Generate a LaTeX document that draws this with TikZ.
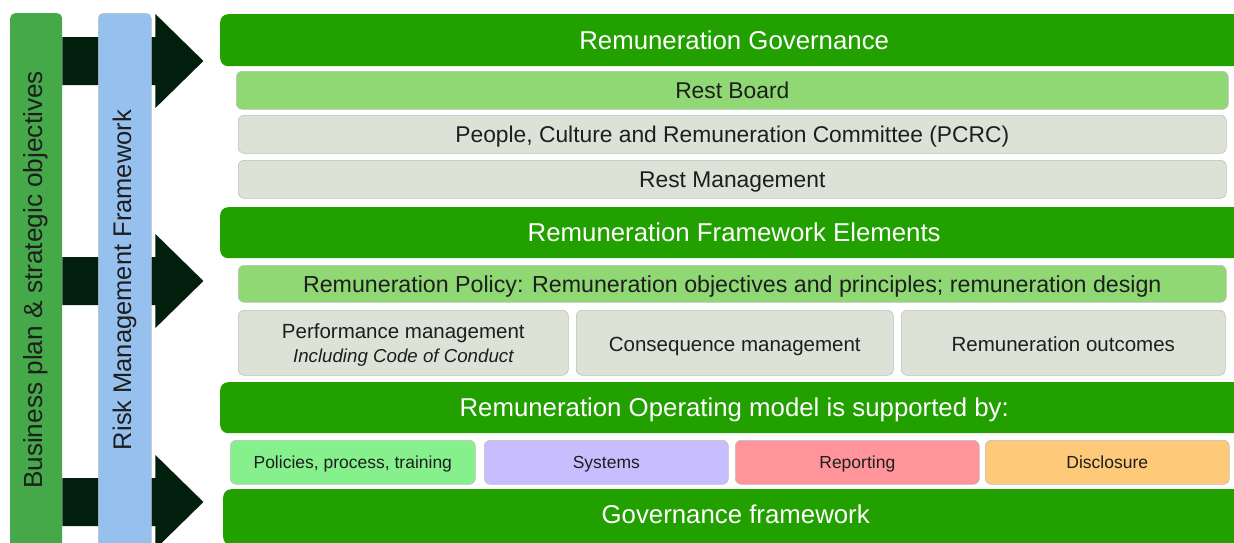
\documentclass[tikz,border=0pt]{standalone}
\usepackage{fontspec}
\setmainfont{Liberation Sans}
\usetikzlibrary{calc}
\definecolor{hdrgreen}{RGB}{33,160,0}
\definecolor{litegreen}{RGB}{143,216,116}
\definecolor{panelgray}{RGB}{220,227,214}
\definecolor{colgreen}{RGB}{69,168,73}
\definecolor{colblue}{RGB}{150,193,239}
\definecolor{arrowdark}{RGB}{2,30,12}
\definecolor{mintgreen}{RGB}{134,240,140}
\definecolor{lavender}{RGB}{200,190,255}
\definecolor{pink}{RGB}{255,149,154}
\definecolor{apricot}{RGB}{255,201,122}
\definecolor{ink}{RGB}{30,30,30}
\definecolor{edgegray}{RGB}{190,190,190}
\begin{document}
\begin{tikzpicture}[x=1pt,y=-1pt,
  box/.style={anchor=north west,inner sep=0pt,rounded corners=6pt,align=center},
  header/.style={box,fill=hdrgreen,text=white,rounded corners=8pt,
    font=\fontsize{25.8}{30}\selectfont,text height=18.4pt,text depth=0pt},
  tier/.style={box,draw=edgegray,line width=0.6pt,text=ink,
    font=\fontsize{22.8}{27}\selectfont,text height=16.6pt,text depth=0pt},
  cell/.style={box,draw=edgegray,line width=0.6pt,fill=panelgray,text=ink,
    font=\fontsize{20.5}{24}\selectfont,text height=16.4pt,text depth=0pt},
  chip/.style={box,draw=edgegray,line width=0.6pt,text=ink,
    font=\fontsize{17.5}{21}\selectfont,text height=11.6pt,text depth=0pt,
    minimum width=244pt,minimum height=44pt},
  column/.style={anchor=north west,inner sep=0pt,rounded corners=5pt,
    minimum width=52pt,minimum height=537pt},
  sidelabel/.style={rotate=90,text=ink},
  blockarrow/.style={fill=arrowdark}
]
\clip (0,0) rectangle (1234,542);
\useasboundingbox (0,0) rectangle (1234,542);

% left-hand column: business plan
\node[column,fill=colgreen] (bp) at (10,13) {};

% block arrows feeding the three tiers
\foreach \cy in {61,281,502}{
  \fill[blockarrow] ($(bp.east |- 0,\cy)+(0,-24)$) -- ++(93,0) -- ++(0,-23)
     -- ++(48,47) -- ++(-48,47) -- ++(0,-23) -- ++(-93,0) -- cycle;
}

% second column: risk management framework
\node[column,fill=colblue,draw=edgegray,line width=0.5pt,minimum width=53pt] (rmf) at (98,13) {};

\node[sidelabel,font=\fontsize{26.2}{30}\selectfont] (bpt) at (36,280)
  {Business plan \& strategic objectives};
\node[sidelabel,font=\fontsize{25.5}{30}\selectfont] (rmft) at (124.5,280)
  {Risk Management Framework};

% governance tier
\node[header,minimum width=1028pt,minimum height=52pt] (gov) at (220,14) {Remuneration Governance};
\node[tier,fill=litegreen,minimum width=992pt,minimum height=38pt] (rb) at (236,71) {Rest Board};
\node[tier,fill=panelgray,minimum width=988pt,minimum height=38pt] (pcrc) at (238,115)
  {People, Culture and Remuneration Committee (PCRC)};
\node[tier,fill=panelgray,minimum width=988pt,minimum height=38pt] (rm) at (238,160) {Rest Management};

% framework elements tier
\node[header,minimum width=1028pt,minimum height=51pt] (rfe) at (220,207) {Remuneration Framework Elements};
\node[tier,fill=litegreen,minimum width=988pt,minimum height=37pt,
  font=\fontsize{23.2}{27}\selectfont] (pol) at (238,265)
  {Remuneration Policy: Remuneration objectives and principles; remuneration design};
\node[cell,minimum width=330pt,minimum height=65pt,text height=39pt] (perf) at (238,310)
  {Performance management\\[0pt]{\fontsize{18.7}{22}\selectfont\itshape Including Code of Conduct}};
\node[cell,minimum width=317pt,minimum height=65pt] (cons) at (576,310) {Consequence management};
\node[cell,minimum width=324pt,minimum height=65pt] (outc) at (901,310) {Remuneration outcomes};

% operating model tier
\node[header,minimum width=1028pt,minimum height=51pt] (rom) at (220,382)
  {Remuneration Operating model is supported by:};
\node[chip,fill=mintgreen,minimum width=245pt] (ppt) at (230,440) {Policies, process, training};
\node[chip,fill=lavender] (sys) at (484,440) {Systems};
\node[chip,fill=pink] (rep) at (735,440) {Reporting};
\node[chip,fill=apricot] (disc) at (985,440) {Disclosure};
\node[header,minimum width=1025pt,minimum height=56pt,text height=12.6pt] (gf) at (223,489)
  {Governance framework};
\end{tikzpicture}
\end{document}
